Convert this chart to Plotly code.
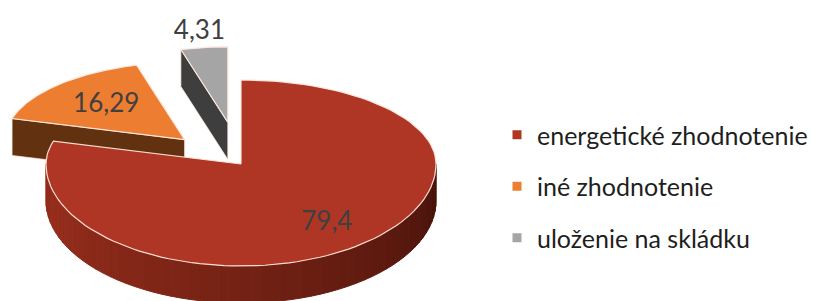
import numpy as np
import plotly.graph_objects as go

# ---- data ----
categories = ["energetické zhodnotenie", "iné zhodnotenie", "uloženie na skládku"]
values = [79.4, 16.29, 4.31]
value_labels = ["79,4", "16,29", "4,31"]

# ---- style / layout constants ----
top_colors = ["#AF3624", "#EC7D31", "#A5A5A5"]
wall_colors = ["#7A2214", "#623210", "#3E3E3E"]
W, H = 821, 301
OFF = 8  # page body margin
CX, CY = 241, 164
A, B_BACK, B_FRONT = 195, 84, 102
DEPTH = 37
PULL = [0.0, 0.41, 0.50]
SCALE = [1.0, 0.92, 0.9]
LABEL_R = [0.73, 0.62, 1.2]
EDGE = "rgba(255,232,220,0.95)"


def bval(c):
    return B_BACK if c > 0 else B_FRONT


def rim(theta, ox, oy, s):
    t = np.radians(theta)
    c = np.cos(t)
    return ox + s * A * np.sin(t), oy - s * bval(c) * c


total = sum(values)
starts, ends = [], []
acc = 0.0
for v in values:
    starts.append(acc / total * 360)
    acc += v
    ends.append(acc / total * 360)

fig = go.Figure()

slices = []
for i in range(len(values)):
    mid = np.radians((starts[i] + ends[i]) / 2)
    c = np.cos(mid)
    ox = CX + PULL[i] * A * np.sin(mid)
    oy = CY - PULL[i] * bval(c) * c
    slices.append((ox, oy))


def poly(xs, ys, fill, line=None, lw=0):
    fig.add_trace(go.Scatter(
        x=list(xs) + [xs[0]], y=list(ys) + [ys[0]], mode="lines", fill="toself",
        fillcolor=fill, line=dict(color=line or fill, width=lw),
        hoverinfo="skip", showlegend=False))


def top_face(i):
    ox, oy = slices[i]
    th = np.linspace(starts[i], ends[i], 120)
    pts = [rim(t, ox, oy, SCALE[i]) for t in th]
    xs = [ox] + [p[0] for p in pts]
    ys = [oy] + [p[1] for p in pts]
    poly(xs, ys, top_colors[i], EDGE, 1.2)


def start_wall(i):
    ox, oy = slices[i]
    rx, ry = rim(starts[i], ox, oy, SCALE[i])
    poly([ox, rx, rx, ox], [oy, ry, ry + DEPTH, oy + DEPTH], wall_colors[i], EDGE, 0.8)


# back to front: grey, orange, red
start_wall(2)
top_face(2)
start_wall(1)
top_face(1)

# red front side band with shading (lighter on the left, darker on the right)
ox, oy = slices[0]
lo, hi = max(90, starts[0]), min(270, ends[0])
nseg = 60
edges = np.linspace(lo, hi, nseg + 1)
for k in range(nseg):
    th = np.linspace(edges[k], edges[k + 1], 4)
    pts = [rim(t, ox, oy, SCALE[0]) for t in th]
    xs = [p[0] for p in pts] + [p[0] for p in pts[::-1]]
    ys = [p[1] for p in pts] + [p[1] + DEPTH for p in pts[::-1]]
    f = (edges[k] + edges[k + 1]) / 2
    f = (f - lo) / (hi - lo)  # 0 at right -> 1 at left
    light = f ** 0.9
    if f > 0.93:
        light *= 0.9
    r = int(68 + 90 * light)
    g = int(18 + 30 * light)
    b_ = int(10 + 20 * light)
    col = f"rgb({r},{g},{b_})"
    poly(xs, ys, col, col, 1)

top_face(0)

# value labels
lx, ly = [], []
for i in range(len(values)):
    mid = np.radians((starts[i] + ends[i]) / 2)
    p = rim(np.degrees(mid), slices[i][0], slices[i][1], LABEL_R[i] * SCALE[i])
    lx.append(p[0])
    ly.append(p[1])
fig.add_trace(go.Scatter(x=lx, y=ly, mode="text", text=value_labels,
                         textfont=dict(family="Lato", size=26, color="#404040"),
                         hoverinfo="skip", showlegend=False))

# legend entries
for i, cat in enumerate(categories):
    fig.add_trace(go.Scatter(x=[None], y=[None], mode="markers", name=cat,
                             legendgroup=cat,
                             marker=dict(symbol="square", size=9, color=top_colors[i])))

fig.update_layout(
    width=W, height=H,
    margin=dict(l=0, r=0, t=0, b=0),
    paper_bgcolor="white", plot_bgcolor="white",
    xaxis=dict(range=[OFF, W + OFF], visible=False, fixedrange=True),
    yaxis=dict(range=[H + OFF, OFF], visible=False, fixedrange=True),
    showlegend=True,
    legend=dict(x=(497 - OFF) / W, y=1 - (112 - OFF) / H, xanchor="left", yanchor="top",
                font=dict(family="Lato", size=25, color="#1e1e1e"),
                tracegroupgap=16, itemwidth=30, bgcolor="rgba(0,0,0,0)"),
)

fig.write_html("out.html")
